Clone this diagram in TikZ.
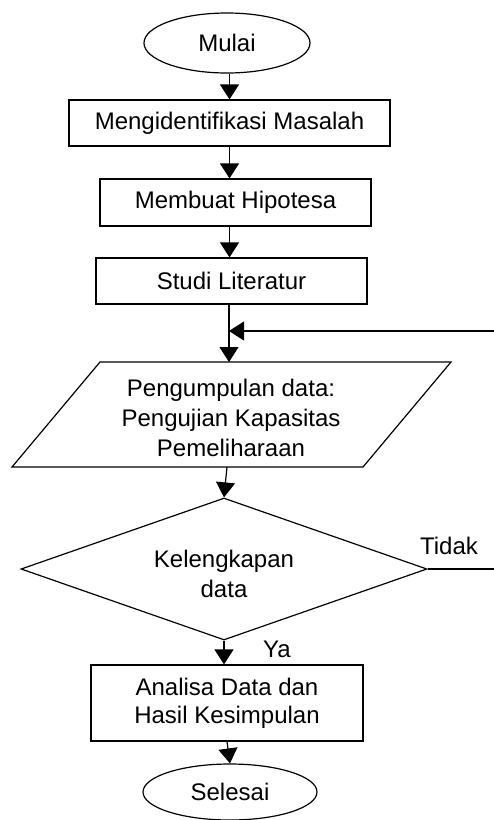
\documentclass[tikz,border=0pt]{standalone}
\usepackage{fontspec}
\setmainfont{Liberation Sans}
\usetikzlibrary{shapes.geometric,arrows.meta}
\begin{document}
\begin{tikzpicture}[x=1pt,y=-1pt, line width=1.2pt,
  every node/.style={font=\fontsize{24}{29}\selectfont},
  proc/.style={draw, rectangle, inner sep=0pt, align=center},
  term/.style={draw, ellipse, inner sep=0pt},
  lbl/.style={inner sep=0pt},
  arr/.style={-{Triangle[length=15pt,width=19pt]}}]
\useasboundingbox (0,0) rectangle (494,820);
% nodes
\node[term, minimum width=166pt, minimum height=60pt] (start) at (227,43) {Mulai};
\node[proc, minimum width=321pt, minimum height=46pt] (b1) at (229.5,123) {Mengidentifikasi Masalah};
\node[proc, minimum width=271pt, minimum height=47pt] (b2) at (235.5,202.5) {Membuat Hipotesa};
\node[proc, minimum width=271pt, minimum height=46pt] (b3) at (231.5,281) {Studi Literatur};
% parallelogram
\coordinate (pTL) at (100,362);
\coordinate (pTR) at (451,362);
\coordinate (pBR) at (363,467);
\coordinate (pBL) at (12,467);
\draw (pTL) -- (pTR) -- (pBR) -- (pBL) -- cycle;
\node[lbl, align=center, font=\fontsize{24}{30}\selectfont] (para) at (231,418) {Pengumpulan data:\\Pengujian Kapasitas\\Pemeliharaan};
\coordinate (paraT) at (229,362);
\coordinate (paraB) at (227,467);
% decision
\node[draw, diamond, inner sep=0pt, aspect=2.86, minimum width=406pt, minimum height=142pt] (dec) at (224,569) {};
\node[lbl, align=center, font=\fontsize{24}{30}\selectfont] (dectext) at (224,574) {Kelengkapan\\data};
\node[proc, minimum width=272pt, minimum height=76pt, font=\fontsize{24}{28}\selectfont] (b4) at (227,703) {Analisa Data dan\\Hasil Kesimpulan};
\node[term, minimum width=174pt, minimum height=56pt] (stop) at (230,792) {Selesai};
% labels
\node[lbl] (tidak) at (449,546) {Tidak};
\node[lbl] (ya) at (277,649) {Ya};
% feedback coordinates
\coordinate (fbR) at (494,331);
\coordinate (fbL) at (229,331);
\coordinate (tR) at (494,569);
% connectors
\draw[arr] (start.south -| b1.north) -- (b1.north);
\draw[arr] (b1.south) -- (b1.south |- b2.north);
\draw[arr] (b1.south |- b2.south) -- (b1.south |- b3.north);
\draw[arr] (b3.south -| paraT) -- (paraT);
\draw[arr] (fbR) -- (fbL);
\draw[arr] (paraB) -- (dec.north);
\draw (dec.east) -- (tR);
\draw[arr] (dec.south) -- (dec.south |- b4.north);
\draw[arr] (b4.south) -- (stop.north);
\end{tikzpicture}
\end{document}
